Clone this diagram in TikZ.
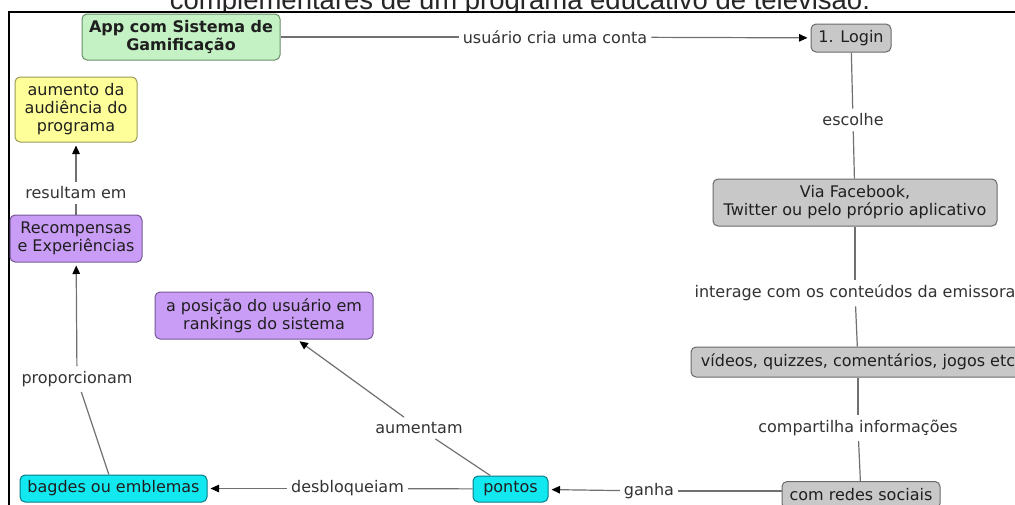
\documentclass[tikz,border=0pt]{standalone}
\usepackage{fontspec}
\setmainfont{DejaVu Sans}
\newfontfamily\capfont{Liberation Sans}
\usetikzlibrary{arrows.meta}

\definecolor{linkgray}{HTML}{707070}
\definecolor{labeltext}{HTML}{333333}
\definecolor{greenfill}{HTML}{C4F2C4}
\definecolor{greenline}{HTML}{6A8C6A}
\definecolor{grayfill}{HTML}{C8C8C8}
\definecolor{grayline}{HTML}{6A6A6A}
\definecolor{yellowfill}{HTML}{FFFF99}
\definecolor{yellowline}{HTML}{9A9A5A}
\definecolor{purplefill}{HTML}{C99CF5}
\definecolor{purpleline}{HTML}{765896}
\definecolor{cyanfill}{HTML}{12E8F0}
\definecolor{cyanline}{HTML}{0A7C86}

\begin{document}
\begin{tikzpicture}[x=1pt,y=-1pt,
  concept/.style={draw, rounded corners=5pt, line width=1pt, align=center,
    font=\fontsize{16}{18}\selectfont, text=black!88, inner sep=0pt},
  greenbox/.style={concept, fill=greenfill, draw=greenline},
  graybox/.style={concept, fill=grayfill, draw=grayline},
  yellowbox/.style={concept, fill=yellowfill, draw=yellowline},
  purplebox/.style={concept, fill=purplefill, draw=purpleline},
  cyanbox/.style={concept, fill=cyanfill, draw=cyanline},
  linklabel/.style={font=\fontsize{16}{18}\selectfont, text=labeltext,
    inner xsep=4pt, inner ysep=5pt},
  link/.style={draw=linkgray, line width=1.2pt},
  arrowlink/.style={link, -{Triangle[length=8.5pt,width=7.5pt,color=black]}, shorten >=3pt}
]
\useasboundingbox (0,0) rectangle (1015,504);
\clip (0,0) rectangle (1015,504);

% heading of the slide, partly hidden behind the figure
\node[anchor=base, font=\capfont\fontsize{27.5}{30}\selectfont, text=black!85, inner sep=0pt]
  (heading) at (520,9) {complementares de um programa educativo de televisão.};

% figure area with its frame
\fill[white] (9,12) rectangle (1030,520);
\draw[black, line width=2pt] (9,520) -- (9,12) -- (1030,12);

% concepts
\node[greenbox, font=\bfseries\fontsize{16}{18}\selectfont, minimum width=198pt, minimum height=46pt]
  (app) at (181,37) {App com Sistema de\\Gamificação};
\node[graybox, minimum width=80pt, minimum height=28pt] (login) at (851,38) {1. Login};
\node[graybox, minimum width=284pt, minimum height=47pt] (face) at (855,202.5)
  {Via Facebook,\\Twitter ou pelo próprio aplicativo};
\node[graybox, minimum width=334pt, minimum height=30pt] (videos) at (858,362)
  {vídeos, quizzes, comentários, jogos etc};
\node[graybox, minimum width=158pt, minimum height=27pt] (redes) at (861,495) {com redes sociais};
\node[cyanbox, minimum width=75pt, minimum height=26pt] (pontos) at (510.5,489) {pontos};
\node[cyanbox, minimum width=187pt, minimum height=27pt] (bagdes) at (113.5,488.5) {bagdes ou emblemas};
\node[purplebox, minimum width=218pt, minimum height=47pt] (rank) at (264,315.5)
  {a posição do usuário em\\rankings do sistema};
\node[purplebox, minimum width=132pt, minimum height=47pt] (recomp) at (76,238.5)
  {Recompensas\\e Experiências};
\node[yellowbox, minimum width=122pt, minimum height=65pt] (aud) at (76,109.5)
  {aumento da\\audiência do\\programa};

% linking phrases
\node[linklabel] (l1) at (555,37) {usuário cria uma conta};
\node[linklabel] (l2) at (853,120) {escolhe};
\node[linklabel] (l3) at (855,293) {interage com os conteúdos da emissora};
\node[linklabel] (l4) at (858,428) {compartilha informações};
\node[linklabel] (l5) at (649,491) {ganha};
\node[linklabel] (l6) at (347.5,488.5) {desbloqueiam};
\node[linklabel] (l7) at (419,428) {aumentam};
\node[linklabel] (l8) at (77,379) {proporcionam};
\node[linklabel] (l9) at (76,193) {resultam em};

% connections
\draw[link] (app) -- (l1);
\draw[arrowlink] (l1) -- (login);
\draw[link] (login) -- (l2);
\draw[link] (l2) -- (face);
\draw[link] (face) -- (l3);
\draw[link] (l3) -- (videos);
\draw[link] (videos) -- (l4);
\draw[link] (l4) -- (redes);
\draw[link] (l5 -| redes.west) -- (l5);
\draw[arrowlink] (l5) -- (pontos);
\draw[link] (pontos) -- (l6);
\draw[arrowlink] (l6) -- (bagdes);
\draw[link] (pontos) -- (l7);
\draw[arrowlink] (l7) -- (rank);
\draw[link] (bagdes) -- (l8);
\draw[arrowlink] (l8) -- (recomp);
\draw[link] (recomp) -- (l9);
\draw[arrowlink] (l9) -- (aud);
\end{tikzpicture}
\end{document}
